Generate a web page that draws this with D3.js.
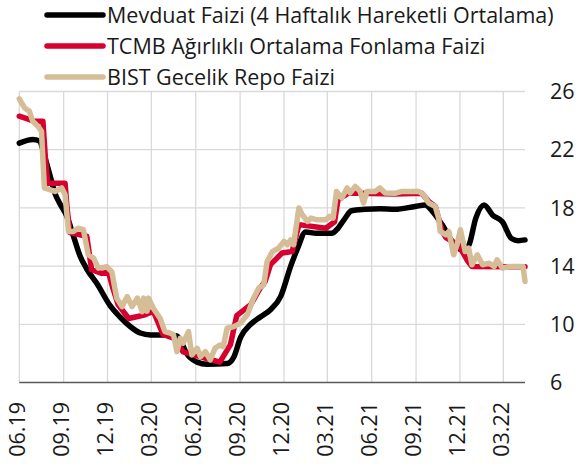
<!DOCTYPE html>
<html>
<head>
<meta charset="utf-8">
<script src="https://cdn.jsdelivr.net/npm/d3@7"></script>
<style>
  body { margin: 0; background: #fff; }
  text { font-family: "Open Sans", "Noto Sans", sans-serif; fill: #1a1a1a; }
</style>
</head>
<body>
<div id="chart"></div>
<script>
// width and height
var w = 579;
var h = 469;

// series names (legend order)
var seriesNames = [
  "Mevduat Faizi (4 Haftalık Hareketli Ortalama)",
  "TCMB Ağırlıklı Ortalama Fonlama Faizi",
  "BIST Gecelik Repo Faizi"
];
var seriesColors = ["#000000", "#d7002e", "#d5bd97"];

// Mevduat faizi (4 haftalik HO)
var mevduat = [
  ["2019-06-01", 22.45], ["2019-06-29", 22.7], ["2019-07-13", 22.6], ["2019-07-23", 21.6],
  ["2019-08-04", 20.2], ["2019-08-14", 19.0], ["2019-08-24", 18.3], ["2019-09-08", 17.4],
  ["2019-09-21", 16.1], ["2019-10-05", 14.7], ["2019-10-19", 13.8], ["2019-11-09", 12.8],
  ["2019-12-06", 11.3], ["2019-12-27", 10.5], ["2020-01-17", 9.85], ["2020-02-07", 9.4],
  ["2020-02-28", 9.27], ["2020-04-02", 9.27], ["2020-04-23", 9.2], ["2020-04-30", 8.9],
  ["2020-05-13", 8.0], ["2020-06-04", 7.4], ["2020-06-24", 7.25], ["2020-08-05", 7.3],
  ["2020-08-19", 7.75], ["2020-09-02", 9.1], ["2020-09-23", 10.0], ["2020-10-13", 10.5],
  ["2020-11-03", 11.0], ["2020-11-24", 11.9], ["2020-12-15", 14.0], ["2020-12-29", 15.2],
  ["2021-01-15", 16.35], ["2021-02-06", 16.25], ["2021-03-10", 16.25], ["2021-03-23", 16.6],
  ["2021-04-07", 17.3], ["2021-04-20", 17.8], ["2021-05-18", 17.9], ["2021-06-18", 17.95],
  ["2021-07-19", 17.9], ["2021-08-30", 18.1], ["2021-09-20", 18.2], ["2021-10-04", 17.8],
  ["2021-10-25", 16.85], ["2021-11-15", 15.7], ["2021-12-06", 15.1], ["2021-12-19", 15.4],
  ["2022-01-03", 17.3], ["2022-01-20", 18.2], ["2022-02-07", 17.5], ["2022-02-27", 17.05],
  ["2022-03-18", 15.9], ["2022-04-01", 15.75], ["2022-04-15", 15.8]
];

// TCMB agirlikli ortalama fonlama faizi
var tcmb = [
  ["2019-06-01", 24.3], ["2019-07-03", 23.95], ["2019-07-20", 23.95], ["2019-07-25", 21.5],
  ["2019-07-30", 19.7], ["2019-09-04", 19.7], ["2019-09-08", 18.0], ["2019-09-14", 16.3],
  ["2019-10-19", 16.05], ["2019-10-29", 13.75], ["2019-11-19", 13.5], ["2019-12-03", 13.6],
  ["2019-12-12", 12.5], ["2019-12-23", 11.35], ["2020-01-14", 10.4], ["2020-01-28", 10.5],
  ["2020-02-17", 10.65], ["2020-03-05", 10.9], ["2020-03-14", 10.2], ["2020-03-25", 9.3],
  ["2020-04-16", 9.05], ["2020-05-06", 8.1], ["2020-06-24", 7.65], ["2020-07-21", 7.4],
  ["2020-08-12", 8.6], ["2020-08-25", 10.6], ["2020-09-23", 11.35], ["2020-10-13", 12.5],
  ["2020-10-23", 12.95], ["2020-11-03", 14.1], ["2020-11-27", 14.9], ["2020-12-18", 15.0],
  ["2021-01-01", 16.85], ["2021-02-26", 16.6], ["2021-03-16", 17.05], ["2021-03-23", 18.55],
  ["2021-04-14", 19.03], ["2021-07-19", 18.95], ["2021-09-13", 19.0], ["2021-09-27", 18.45],
  ["2021-10-11", 18.1], ["2021-10-25", 16.4], ["2021-11-02", 15.95], ["2021-11-15", 15.7],
  ["2021-11-29", 15.45], ["2021-12-06", 15.0], ["2021-12-16", 14.4], ["2021-12-26", 13.97],
  ["2022-04-15", 13.95]
];

// BIST gecelik repo faizi
var bist = [
  ["2019-06-01", 25.5], ["2019-06-12", 24.87], ["2019-06-22", 24.64], ["2019-06-29", 23.95],
  ["2019-07-10", 23.6], ["2019-07-17", 23.27], ["2019-07-23", 19.37], ["2019-08-14", 19.13],
  ["2019-08-28", 19.37], ["2019-09-04", 18.9], ["2019-09-11", 16.38], ["2019-09-21", 16.38],
  ["2019-10-01", 16.6], ["2019-10-12", 16.5], ["2019-10-22", 14.78], ["2019-11-02", 14.55],
  ["2019-11-12", 13.86], ["2019-11-22", 13.9], ["2019-11-29", 13.97], ["2019-12-10", 13.6],
  ["2019-12-20", 11.8], ["2019-12-31", 11.22], ["2020-01-11", 11.9], ["2020-01-21", 11.22],
  ["2020-02-01", 11.8], ["2020-02-11", 10.87], ["2020-02-14", 11.8], ["2020-02-21", 10.9],
  ["2020-02-24", 11.8], ["2020-03-05", 11.1], ["2020-03-19", 10.42], ["2020-03-29", 9.5],
  ["2020-04-09", 9.4], ["2020-04-16", 9.27], ["2020-04-23", 8.12], ["2020-04-30", 9.04],
  ["2020-05-06", 8.7], ["2020-05-17", 9.5], ["2020-05-24", 7.9], ["2020-06-04", 8.35],
  ["2020-06-11", 7.78], ["2020-06-21", 8.12], ["2020-07-01", 7.55], ["2020-07-11", 8.35],
  ["2020-07-21", 8.58], ["2020-07-28", 8.46], ["2020-08-05", 9.73], ["2020-08-19", 9.84],
  ["2020-09-02", 10.08], ["2020-09-16", 10.65], ["2020-09-29", 11.8], ["2020-10-10", 12.5],
  ["2020-10-20", 12.7], ["2020-10-27", 14.3], ["2020-11-07", 15.0], ["2020-11-20", 15.24],
  ["2020-12-01", 15.7], ["2020-12-08", 15.47], ["2020-12-15", 15.8], ["2020-12-21", 15.47],
  ["2021-01-01", 18.0], ["2021-01-08", 17.53], ["2021-01-19", 17.07], ["2021-01-26", 17.3],
  ["2021-02-06", 17.19], ["2021-02-26", 17.19], ["2021-03-06", 17.42], ["2021-03-13", 17.3],
  ["2021-03-20", 19.13], ["2021-03-31", 18.68], ["2021-04-11", 19.37], ["2021-04-17", 19.03],
  ["2021-04-28", 19.48], ["2021-05-08", 19.13], ["2021-05-15", 18.34], ["2021-05-22", 19.13],
  ["2021-06-08", 19.13], ["2021-06-18", 19.37], ["2021-06-29", 19.03], ["2021-07-19", 19.0],
  ["2021-08-03", 19.13], ["2021-09-07", 19.13], ["2021-09-17", 18.9], ["2021-09-27", 18.34],
  ["2021-10-11", 18.1], ["2021-10-18", 17.3], ["2021-10-21", 16.38], ["2021-11-02", 16.15],
  ["2021-11-08", 16.38], ["2021-11-18", 14.78], ["2021-11-25", 15.47], ["2021-12-02", 16.5],
  ["2021-12-12", 15.0], ["2021-12-19", 15.24], ["2021-12-26", 14.09], ["2022-01-06", 14.78],
  ["2022-01-17", 14.09], ["2022-01-31", 14.2], ["2022-02-10", 13.97], ["2022-02-16", 14.43],
  ["2022-02-27", 13.86], ["2022-03-14", 13.97], ["2022-04-11", 13.97], ["2022-04-15", 12.94]
];

// axis ticks
var yTicks = [6, 10, 14, 18, 22, 26];
var xTickDates = ["2019-06-01", "2019-09-01", "2019-12-01", "2020-03-01", "2020-06-01",
  "2020-09-01", "2020-12-01", "2021-03-01", "2021-06-01", "2021-09-01", "2021-12-01", "2022-03-01"];

var parse = d3.timeParse("%Y-%m-%d");
var fmt = d3.timeFormat("%m.%y");
var allSeries = [mevduat, tcmb, bist].map(function(s) {
  return s.map(function(d) { return { date: parse(d[0]), value: d[1] }; });
});

var plotLeft = 19.3, plotRight = 525, plotTop = 91.5, plotBottom = 382.5;

var x = d3.scaleTime()
  .domain([parse("2019-06-01"), parse("2022-04-15")])
  .range([plotLeft, plotRight]);

var y = d3.scaleLinear()
  .domain([6, 26])
  .range([plotBottom, plotTop]);

var svg = d3.select("#chart")
  .append("svg")
  .attr("width", w)
  .attr("height", h);

// gridlines
svg.append("g")
  .selectAll("line")
  .data(yTicks.slice(1))
  .enter()
  .append("line")
  .attr("x1", plotLeft)
  .attr("x2", plotRight)
  .attr("y1", function(d) { return y(d); })
  .attr("y2", function(d) { return y(d); })
  .attr("stroke", "#d9d9d9")
  .attr("stroke-width", 1.3);

svg.append("g")
  .selectAll("line")
  .data(xTickDates)
  .enter()
  .append("line")
  .attr("x1", function(d) { return x(parse(d)); })
  .attr("x2", function(d) { return x(parse(d)); })
  .attr("y1", plotTop)
  .attr("y2", plotBottom)
  .attr("stroke", "#d9d9d9")
  .attr("stroke-width", 1.3);

// bottom axis line
svg.append("line")
  .attr("x1", plotLeft)
  .attr("x2", plotRight)
  .attr("y1", plotBottom)
  .attr("y2", plotBottom)
  .attr("stroke", "#595959")
  .attr("stroke-width", 1.5);

// y labels on right
svg.append("g")
  .selectAll("text")
  .data(yTicks)
  .enter()
  .append("text")
  .text(function(d) { return d; })
  .attr("x", 550)
  .attr("y", function(d) { return y(d); })
  .attr("dy", "0.36em")
  .attr("font-size", "21.5px");

// x labels, rotated
svg.append("g")
  .selectAll("text")
  .data(xTickDates)
  .enter()
  .append("text")
  .text(function(d) { return fmt(parse(d)); })
  .attr("transform", function(d) {
    return "translate(" + (x(parse(d)) - 2.5) + ",402) rotate(-90)";
  })
  .attr("text-anchor", "end")
  .attr("dy", "0.36em")
  .attr("font-size", "21.5px");

// series lines: black, red, tan (tan on top)
var line = d3.line()
  .x(function(d) { return x(d.date); })
  .y(function(d) { return y(d.value); });

svg.append("g")
  .selectAll("path")
  .data(allSeries)
  .enter()
  .append("path")
  .attr("d", function(d, i) {
    return line.curve(i == 0 ? d3.curveMonotoneX : d3.curveLinear)(d);
  })
  .attr("fill", "none")
  .attr("stroke", function(d, i) { return seriesColors[i]; })
  .attr("stroke-width", 5.5)
  .attr("stroke-linejoin", "round")
  .attr("stroke-linecap", "round");

// legend
var lg = svg.append("g")
  .selectAll("g")
  .data(seriesNames)
  .enter()
  .append("g")
  .attr("transform", function(d, i) { return "translate(0," + (15 + i * 31) + ")"; });

lg.append("line")
  .attr("x1", 47)
  .attr("x2", 103)
  .attr("stroke", function(d, i) { return seriesColors[i]; })
  .attr("stroke-width", 5.5)
  .attr("stroke-linecap", "round");

lg.append("text")
  .text(function(d) { return d; })
  .attr("x", 107)
  .attr("dy", "0.36em")
  .attr("font-size", "21.5px");
</script>
</body>
</html>
